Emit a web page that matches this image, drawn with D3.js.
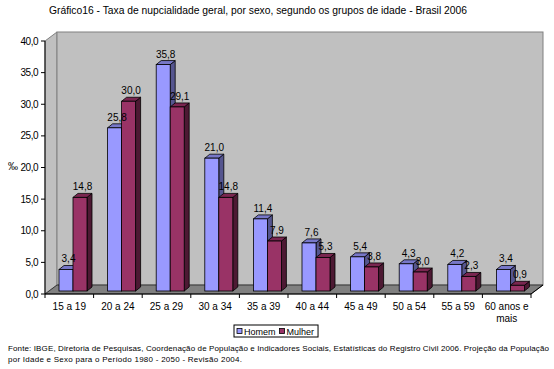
<!DOCTYPE html>
<html>
<head>
<meta charset="utf-8">
<title>Taxa de nupcialidade</title>
<style>
body {
    margin: 0px;
    overflow: hidden;
    background: #fff;
}
text {
    font-family: "Liberation Sans", Arial, sans-serif;
    fill: #000;
}
</style>
<script src="https://cdnjs.cloudflare.com/ajax/libs/d3/7.8.5/d3.min.js"></script>
</head>
<body>
<div id="chart"></div>
<script>

var categories = ["15 a 19", "20 a 24", "25 a 29", "30 a 34", "35 a 39", "40 a 44", "45 a 49", "50 a 54", "55 a 59", "60 anos e mais"];
var homem = [3.4, 25.8, 35.8, 21.0, 11.4, 7.6, 5.4, 4.3, 4.2, 3.4];
var mulher = [14.8, 30.0, 29.1, 14.8, 7.9, 5.3, 3.8, 3.0, 2.3, 0.9];
var yTicks = [0, 5, 10, 15, 20, 25, 30, 35, 40];
var seriesNames = ["Homem", "Mulher"];

var width = 554, height = 369;
var svg = d3.select("#chart").append("svg")
    .attr("width", width)
    .attr("height", height);

var fmt = function (v) { return d3.format(".1f")(v).replace(".", ","); };

var x = d3.scaleBand().domain(categories).range([45, 531]).padding(0);
var y = d3.scaleLinear().domain([0, 40]).range([294, 41]);

// 3d offsets
var wallDx = 12, wallDy = -9;
var barDx = 5, barDy = -4;
var shift = 3;   // bars sit a bit behind the front plane

var x0 = x.range()[0], x1 = x.range()[1];
var yb = y(0), yt = y(40);

// left wall
svg.append("polygon")
    .attr("points", [[x0, yt], [x0 + wallDx, yt + wallDy], [x0 + wallDx, yb + wallDy], [x0, yb]].join(" "))
    .attr("fill", "#c0c0c0").attr("stroke", "#808080");
// back wall
svg.append("rect")
    .attr("x", x0 + wallDx).attr("y", yt + wallDy)
    .attr("width", x1 - x0).attr("height", yb - yt)
    .attr("fill", "#c0c0c0").attr("stroke", "#808080");
// floor
svg.append("polygon")
    .attr("points", [[x0, yb], [x0 + wallDx, yb + wallDy], [x1 + wallDx, yb + wallDy], [x1, yb]].join(" "))
    .attr("fill", "#808080").attr("stroke", "#000").attr("stroke-width", 0.6);

var colors = [
    {front: "#9999ff", top: "#7777c8", side: "#55558f"},
    {front: "#993366", top: "#7a2650", side: "#4d1933"}
];

var bw = 14, offset = 14;
var series = [homem, mulher];

series.forEach(function (vals, s) {
    var g = svg.append("g");
    categories.forEach(function (c, i) {
        var bx = x(c) + offset + s * bw;
        var top = y(vals[i]) - shift;
        var bot = yb - shift;
        var col = colors[s];
        g.append("polygon")
            .attr("points", [[bx + bw, top], [bx + bw + barDx, top + barDy], [bx + bw + barDx, bot + barDy], [bx + bw, bot]].join(" "))
            .attr("fill", col.side).attr("stroke", "#000").attr("stroke-width", 0.8);
        g.append("polygon")
            .attr("points", [[bx, top], [bx + barDx, top + barDy], [bx + bw + barDx, top + barDy], [bx + bw, top]].join(" "))
            .attr("fill", col.top).attr("stroke", "#000").attr("stroke-width", 0.8);
        g.append("rect")
            .attr("x", bx).attr("y", top)
            .attr("width", bw).attr("height", bot - top)
            .attr("fill", col.front).attr("stroke", "#000").attr("stroke-width", 0.8);
    });
});

// value labels
series.forEach(function (vals, s) {
    categories.forEach(function (c, i) {
        var bx = x(c) + offset + s * bw;
        svg.append("text")
            .attr("x", bx + bw / 2 + barDx / 2)
            .attr("y", y(vals[i]) - shift - 7)
            .attr("text-anchor", "middle")
            .attr("font-size", 10)
            .text(fmt(vals[i]));
    });
});

// axes
svg.append("line").attr("x1", x0).attr("x2", x0).attr("y1", yt).attr("y2", yb).attr("stroke", "#000");
svg.append("line").attr("x1", x0).attr("x2", x1).attr("y1", yb).attr("y2", yb).attr("stroke", "#000");
svg.append("line").attr("x1", x1).attr("x2", x1 + wallDx).attr("y1", yb).attr("y2", yb + wallDy).attr("stroke", "#000");

yTicks.forEach(function (t) {
    svg.append("line").attr("x1", x0 - 4).attr("x2", x0).attr("y1", y(t)).attr("y2", y(t)).attr("stroke", "#000");
    svg.append("text")
        .attr("x", 38).attr("y", y(t) + 3.5)
        .attr("text-anchor", "end")
        .attr("font-size", 10)
        .attr("letter-spacing", -0.5)
        .text(fmt(t));
});

categories.forEach(function (c, i) {
    svg.append("line").attr("x1", x(c)).attr("x2", x(c)).attr("y1", yb).attr("y2", yb + 4).attr("stroke", "#000");
    var lines = c === "60 anos e mais" ? ["60 anos e", "mais"] : [c];
    lines.forEach(function (l, k) {
        svg.append("text")
            .attr("x", x(c) + x.bandwidth() / 2)
            .attr("y", 310 + k * 12)
            .attr("text-anchor", "middle")
            .attr("font-size", 10)
            .text(l);
    });
});
svg.append("line").attr("x1", x1).attr("x2", x1).attr("y1", yb).attr("y2", yb + 4).attr("stroke", "#000");

svg.append("text").attr("x", 13).attr("y", 170).attr("text-anchor", "middle").attr("font-size", 10).text("‰");

// title
svg.append("text")
    .attr("x", 49).attr("y", 14)
    .attr("font-size", 10)
    .attr("textLength", 418).attr("lengthAdjust", "spacingAndGlyphs")
    .text("Gráfico16 - Taxa de nupcialidade geral, por sexo, segundo os grupos de idade - Brasil 2006");

// legend
var lg = svg.append("g").attr("transform", "translate(234,325)");
var box = lg.append("rect").attr("height", 12).attr("fill", "#fff").attr("stroke", "#000");
var cx = 3;
seriesNames.forEach(function (n, s) {
    lg.append("rect").attr("x", cx).attr("y", 3.5).attr("width", 5).attr("height", 5)
        .attr("fill", colors[s].front).attr("stroke", "#000").attr("stroke-width", 0.8);
    var t = lg.append("text").attr("x", cx + 7).attr("y", 9.5).attr("font-size", 9).text(n);
    cx += 7 + t.node().getComputedTextLength() + 4;
});
box.attr("width", cx);

// source
svg.append("text").attr("x", 8).attr("y", 351).attr("font-size", 8)
    .attr("textLength", 541).attr("lengthAdjust", "spacing")
    .text("Fonte: IBGE, Diretoria de Pesquisas, Coordenação de População e Indicadores Sociais, Estatísticas do Registro Civil 2006. Projeção da População");
svg.append("text").attr("x", 8).attr("y", 362).attr("font-size", 8)
    .attr("textLength", 234).attr("lengthAdjust", "spacing")
    .text("por Idade e Sexo para o Período 1980 - 2050 - Revisão 2004.");

</script>
</body>
</html>
